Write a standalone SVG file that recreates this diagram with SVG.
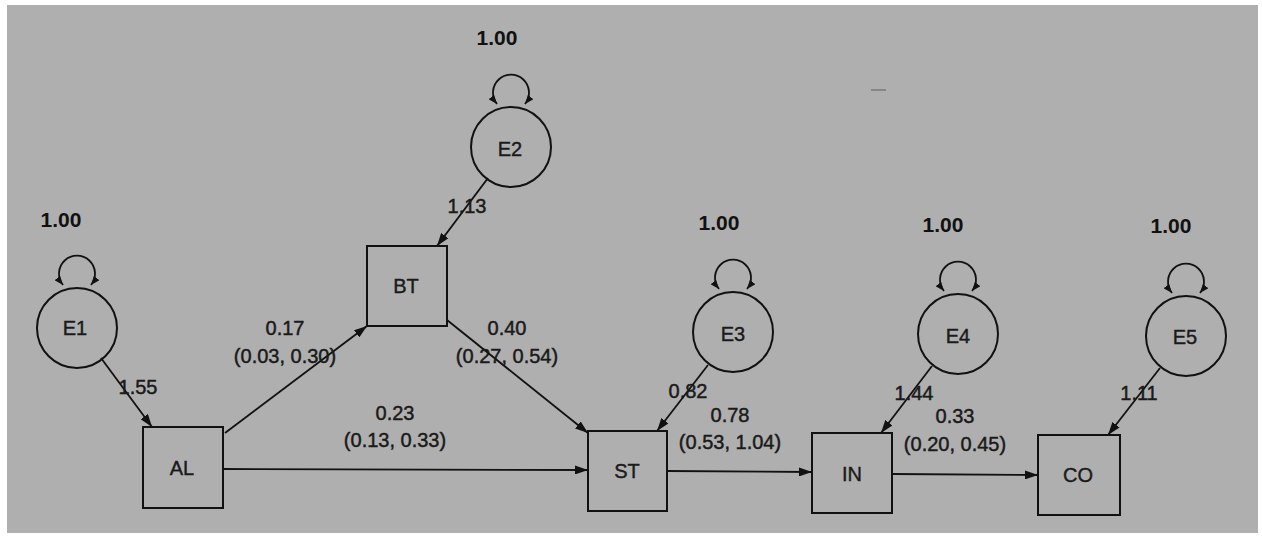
<svg xmlns="http://www.w3.org/2000/svg" width="1262" height="541" viewBox="0 0 1262 541">
<style>
.bg{fill:#afafaf}
.node{fill:none;stroke:#111;stroke-width:2}
.edge{fill:none;stroke:#111;stroke-width:1.8}
.nl{font-family:"Liberation Sans",Arial,sans-serif;font-size:20px;fill:#1a1a1a;stroke:#1a1a1a;stroke-width:0.4;text-anchor:middle}
.el{font-family:"Liberation Sans",Arial,sans-serif;font-size:20px;fill:#1a1a1a;stroke:#1a1a1a;stroke-width:0.45;text-anchor:middle}
.vl{font-family:"Liberation Sans",Arial,sans-serif;font-size:21px;font-weight:bold;fill:#111;text-anchor:middle}
</style>
<defs>
<marker id="arr" markerUnits="userSpaceOnUse" markerWidth="13" markerHeight="9" refX="13" refY="4.5" orient="auto">
<path d="M0,0 L13,4.5 L0,9 z" fill="#111"/>
</marker>
<marker id="la" markerUnits="userSpaceOnUse" markerWidth="9" markerHeight="7" refX="9" refY="3.5" orient="auto-start-reverse">
<path d="M0,0 L9,3.5 L0,7 z" fill="#111"/>
</marker>
</defs>
<rect x="0" y="0" width="1262" height="541" fill="#ffffff"/>
<rect class="bg" x="7" y="5" width="1251" height="528"/>
<line x1="871" y1="90" x2="886" y2="90" stroke="#6a6a6a" stroke-width="1.2"/>

<g id="connectors">
<line class="edge" x1="101" y1="358" x2="152" y2="427" marker-end="url(#arr)"/>
<line class="edge" x1="225" y1="433" x2="367" y2="326" marker-end="url(#arr)"/>
<line class="edge" x1="223" y1="469" x2="588" y2="470" marker-end="url(#arr)"/>
<line class="edge" x1="488" y1="178" x2="437" y2="246" marker-end="url(#arr)"/>
<line class="edge" x1="447" y1="320" x2="588" y2="433" marker-end="url(#arr)"/>
<line class="edge" x1="708" y1="365" x2="657" y2="431" marker-end="url(#arr)"/>
<line class="edge" x1="667" y1="471" x2="812" y2="472" marker-end="url(#arr)"/>
<line class="edge" x1="932" y1="366" x2="881" y2="433" marker-end="url(#arr)"/>
<line class="edge" x1="892" y1="474" x2="1038" y2="475" marker-end="url(#arr)"/>
<line class="edge" x1="1160" y1="368" x2="1108" y2="435" marker-end="url(#arr)"/>
<path class="edge" d="M63,285 A18,18 0 1 1 91,285" marker-start="url(#la)" marker-end="url(#la)"/>
<path class="edge" d="M497,104 A18,18 0 1 1 525,104" marker-start="url(#la)" marker-end="url(#la)"/>
<path class="edge" d="M719,289 A18,18 0 1 1 747,289" marker-start="url(#la)" marker-end="url(#la)"/>
<path class="edge" d="M944,291 A18,18 0 1 1 972,291" marker-start="url(#la)" marker-end="url(#la)"/>
<path class="edge" d="M1172,293 A18,18 0 1 1 1200,293" marker-start="url(#la)" marker-end="url(#la)"/>
</g>

<g id="E1"><circle class="node" cx="77" cy="328" r="40"/><text class="nl" x="75" y="335">E1</text><text class="vl" x="61" y="227">1.00</text></g>
<g id="E2"><circle class="node" cx="511" cy="147" r="40"/><text class="nl" x="510" y="156">E2</text><text class="vl" x="497" y="45">1.00</text></g>
<g id="E3"><circle class="node" cx="733" cy="332" r="40"/><text class="nl" x="733" y="341">E3</text><text class="vl" x="719" y="230">1.00</text></g>
<g id="E4"><circle class="node" cx="958" cy="334" r="40"/><text class="nl" x="958" y="343">E4</text><text class="vl" x="943" y="232">1.00</text></g>
<g id="E5"><circle class="node" cx="1186" cy="336" r="40"/><text class="nl" x="1185" y="344">E5</text><text class="vl" x="1171" y="233">1.00</text></g>

<g id="AL"><rect class="node" x="143" y="427" width="80" height="81"/><text class="nl" x="182" y="475">AL</text></g>
<g id="BT"><rect class="node" x="367" y="246" width="80" height="80"/><text class="nl" x="406" y="293">BT</text></g>
<g id="ST"><rect class="node" x="588" y="431" width="79" height="80"/><text class="nl" x="627" y="478">ST</text></g>
<g id="IN"><rect class="node" x="812" y="433" width="80" height="80"/><text class="nl" x="852" y="481">IN</text></g>
<g id="CO"><rect class="node" x="1038" y="435" width="82" height="80"/><text class="nl" x="1078" y="482">CO</text></g>

<g id="labels">
<text class="el" x="138" y="394">1.55</text>
<text class="el" x="285" y="335">0.17</text>
<text class="el" x="285" y="363">(0.03, 0.30)</text>
<text class="el" x="395" y="420">0.23</text>
<text class="el" x="395" y="447">(0.13, 0.33)</text>
<text class="el" x="467" y="213">1.13</text>
<text class="el" x="507" y="335">0.40</text>
<text class="el" x="507" y="363">(0.27, 0.54)</text>
<text class="el" x="688" y="398">0.82</text>
<text class="el" x="730" y="422">0.78</text>
<text class="el" x="730" y="449">(0.53, 1.04)</text>
<text class="el" x="914" y="400">1.44</text>
<text class="el" x="955" y="423">0.33</text>
<text class="el" x="955" y="451">(0.20, 0.45)</text>
<text class="el" x="1139" y="400">1.11</text>
</g>
</svg>
